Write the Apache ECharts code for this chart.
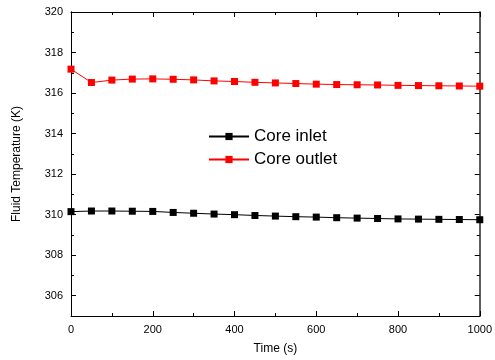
<!DOCTYPE html>
<html>
<head>
<meta charset="utf-8">
<script src="https://cdn.jsdelivr.net/npm/echarts@6/dist/echarts.min.js"></script>
<style>
  html, body { margin: 0; padding: 0; background: #fff; }
  #chart { width: 495px; height: 360px; }
</style>
</head>
<body>
<div id="chart"></div>
<script>
// time in seconds, one point every 50 s
const times = [0, 50, 100, 150, 200, 250, 300, 350, 400, 450, 500,
  550, 600, 650, 700, 750, 800, 850, 900, 950, 1000];
const coreInlet = [310.15, 310.18, 310.18, 310.17, 310.16, 310.11, 310.07, 310.03, 310.00, 309.96, 309.93,
  309.90, 309.88, 309.85, 309.83, 309.81, 309.79, 309.78, 309.77, 309.76, 309.75];
const coreOutlet = [317.18, 316.52, 316.64, 316.69, 316.70, 316.68, 316.65, 316.60, 316.57, 316.53, 316.50,
  316.47, 316.44, 316.42, 316.41, 316.40, 316.38, 316.37, 316.36, 316.35, 316.34];
const yMajor = [306, 308, 310, 312, 314, 316, 318, 320];
const yMinor = [305, 307, 309, 311, 313, 315, 317, 319];

const font = 'Liberation Sans, Arial, sans-serif';
let chart = echarts.init(document.getElementById('chart'));

function pair(v, i) { return [times[i], v]; }

function yAx(pos, ticks, len, labels) {
    return {
        type: 'value', position: pos, min: 305, max: 320,
        axisLine: { show: true, lineStyle: { color: pos === 'right' ? '#555' : '#000', width: pos === 'right' ? 1.5 : 1 } },
        axisTick: { show: true, inside: true, length: len, customValues: ticks, lineStyle: { color: '#000' } },
        axisLabel: labels ? { show: true, customValues: yMajor, color: '#000', fontFamily: font, fontSize: 11, margin: 8 } : { show: false },
        splitLine: { show: false }
    };
}

let option = {
    animation: false,
    grid: { left: 71, right: 12.5, top: 12, bottom: 44 },
    legend: {
        orient: 'vertical', left: 203, top: 123,
        itemWidth: 40, itemHeight: 9, itemGap: 6,
        textStyle: { fontFamily: font, fontSize: 17, color: '#000' },
        data: ['Core inlet', 'Core outlet']
    },
    xAxis: [{
        type: 'value', min: 0, max: 1000, interval: 200,
        name: 'Time (s)', nameLocation: 'middle', nameGap: 27,
        nameTextStyle: { fontFamily: font, fontSize: 12, color: '#000' },
        axisLine: { lineStyle: { color: '#000' } },
        axisTick: { inside: true, length: 5, lineStyle: { color: '#000' } },
        minorTick: { show: true, splitNumber: 2, length: 3, lineStyle: { color: '#000' } },
        axisLabel: { color: '#000', fontFamily: font, fontSize: 11, margin: 8, formatter: v => String(v) },
        splitLine: { show: false }
    }, {
        type: 'value', position: 'top', min: 0, max: 1000, interval: 200,
        axisLine: { show: true, lineStyle: { color: '#000' } },
        axisTick: { inside: true, length: 5, lineStyle: { color: '#000' } },
        minorTick: { show: true, splitNumber: 2, length: 3, lineStyle: { color: '#000' } },
        axisLabel: { show: false },
        splitLine: { show: false }
    }],
    yAxis: [
        Object.assign(yAx('left', yMajor, 5, true), {
            name: 'Fluid Temperature (K)', nameLocation: 'middle', nameGap: 48,
            nameTextStyle: { fontFamily: font, fontSize: 12, color: '#000' }
        }),
        yAx('left', yMinor, 3, false),
        yAx('right', yMajor, 5, false),
        yAx('right', yMinor, 3, false)
    ],
    series: [{
        name: 'Core inlet', type: 'line',
        data: coreInlet.map(pair),
        symbol: 'rect', symbolSize: 7,
        itemStyle: { color: '#000' },
        lineStyle: { color: '#000', width: 1 }
    }, {
        name: 'Core outlet', type: 'line',
        data: coreOutlet.map(pair),
        symbol: 'rect', symbolSize: 7,
        itemStyle: { color: '#ff0000' },
        lineStyle: { color: '#ff0000', width: 1 }
    }]
};
option && chart.setOption(option);
</script>
</body>
</html>
